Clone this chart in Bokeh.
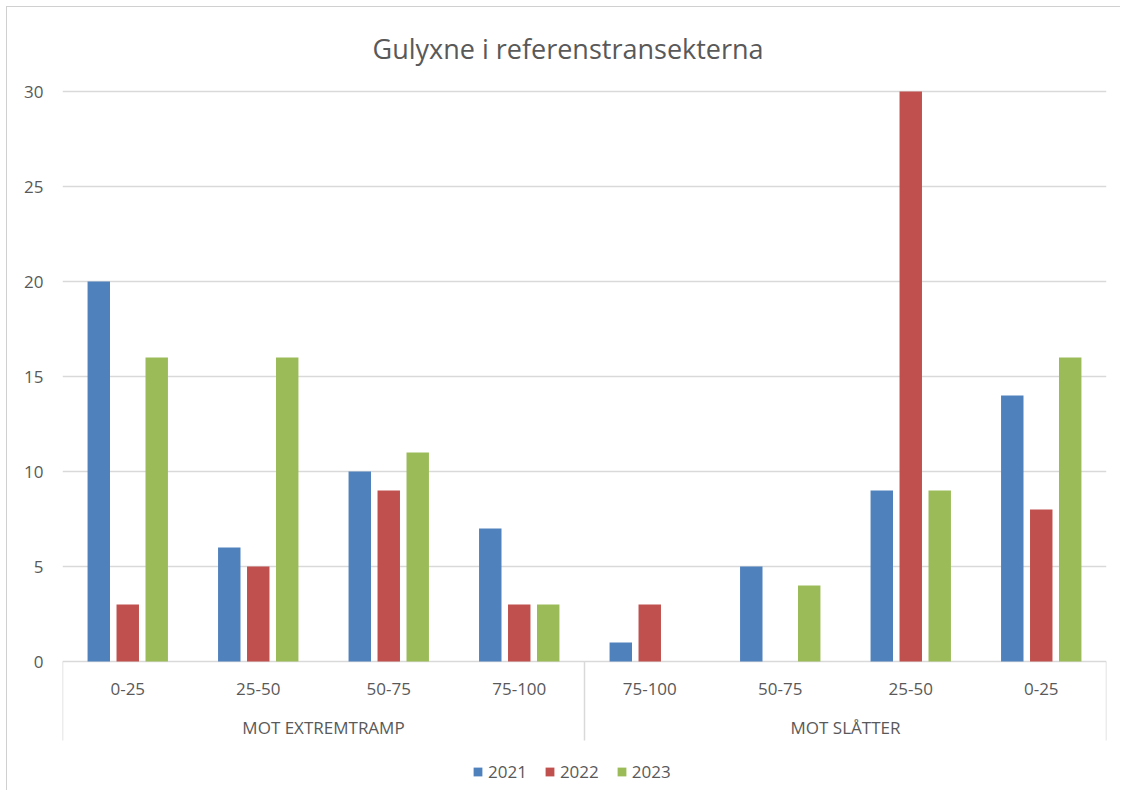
from bokeh.plotting import figure
from bokeh.models import (FactorRange, Range1d, Legend, LegendItem, FixedTicker,
                          ColumnDataSource, Title)
from bokeh.transform import dodge
from bokeh.core.properties import value
from bokeh.embed import file_html
from bokeh.resources import INLINE

# ---------------- data ----------------
groups = ["MOT EXTREMTRAMP"] * 4 + ["MOT SLÅTTER"] * 4
zones = ["0-25", "25-50", "50-75", "75-100", "75-100", "50-75", "25-50", "0-25"]
y2021 = [20, 6, 10, 7, 1, 5, 9, 14]
y2022 = [3, 5, 9, 3, 3, 0, 30, 8]
y2023 = [16, 16, 11, 3, 0, 4, 9, 16]
years = ["2021", "2022", "2023"]
yticks = [0, 5, 10, 15, 20, 25, 30]
title_text = "Gulyxne i referenstransekterna"

# ---------------- style ----------------
FONT = "Open Sans"
TXT = "#595959"
GRID = "#d9d9d9"
COLORS = ["#4F81BD", "#C0504D", "#9BBB59"]

O = 8                    # page px of figure's top-left corner
W, H = 1114, 784
FRAME_LEFT, FRAME_RIGHT = 63, 1107
FRAME_TOP = 70           # page px
ZERO_PX = 662
PX_PER_UNIT = 19.0
PAGE_BOTTOM = O + H
y_start = -(PAGE_BOTTOM - ZERO_PX) / PX_PER_UNIT
y_end = (ZERO_PX - FRAME_TOP) / PX_PER_UNIT

factors = list(zip(groups, zones))
x_range = FactorRange(*factors, range_padding=0, group_padding=0,
                      subgroup_padding=0, factor_padding=0)

p = figure(width=W, height=H, x_range=x_range,
           y_range=Range1d(y_start, y_end),
           output_backend="svg", toolbar_location=None,
           x_axis_location=None, title=None,
           min_border_left=FRAME_LEFT - O, min_border_right=O + W - FRAME_RIGHT,
           min_border_top=FRAME_TOP - O, min_border_bottom=0,
           outline_line_color=None,
           styles={"margin-left": "6px", "margin-top": "6px",
                   "border-left": "1px solid #d0d0d0",
                   "border-top": "1px solid #d0d0d0"})

t = Title(text=title_text, align="left", text_font=FONT,
          text_font_size="27px", text_font_style="normal",
          text_color=TXT, offset=373 - FRAME_LEFT, standoff=5)
p.add_layout(t, "above")

src = ColumnDataSource(dict(x=factors, y2021=y2021, y2022=y2022, y2023=y2023))

bar_w = 0.172
off = 0.222
renderers = []
for i, (col, c) in enumerate(zip(["y2021", "y2022", "y2023"], COLORS)):
    r = p.vbar(x=dodge("x", (i - 1) * off, range=p.x_range), top=col, bottom=0,
               width=bar_w, source=src, fill_color=c, line_color=None)
    renderers.append(r)

# y axis and grid
p.yaxis.ticker = FixedTicker(ticks=yticks)
p.yaxis.axis_line_color = None
p.yaxis.major_tick_line_color = None
p.yaxis.minor_tick_line_color = None
p.yaxis.major_tick_out = 0
p.yaxis.major_tick_in = 0
p.yaxis.major_label_standoff = 19
p.yaxis.major_label_text_font = FONT
p.yaxis.major_label_text_font_size = "17px"
p.yaxis.major_label_text_color = TXT
p.ygrid.ticker = FixedTicker(ticks=yticks)
p.ygrid.grid_line_color = GRID
p.ygrid.grid_line_width = 1.5
p.xgrid.grid_line_color = None

# category labels (two levels) and separators
lab_y = -(689 - ZERO_PX) / PX_PER_UNIT
grp_y = -(728 - ZERO_PX) / PX_PER_UNIT
sep_y = -(741 - ZERO_PX) / PX_PER_UNIT

p.text(x=factors, y=[lab_y] * len(factors), text=zones,
       text_font=value(FONT), text_font_size="17px", text_color=TXT,
       text_align="center", text_baseline="middle")

uniq_groups = list(dict.fromkeys(groups))
p.text(x=uniq_groups, y=[grp_y] * len(uniq_groups), text=uniq_groups,
       text_font=value(FONT), text_font_size="17px", text_color=TXT,
       text_align="center", text_baseline="middle")

sep_x = [(groups[0], zones[0], -0.5), (groups[4], zones[4], -0.5),
         (groups[-1], zones[-1], 0.5)]
p.segment(x0=sep_x, x1=sep_x, y0=[0] * 3, y1=[sep_y] * 3,
          line_color=GRID, line_width=1.5)

legend = Legend(items=[LegendItem(label=y, renderers=[r]) for y, r in zip(years, renderers)],
                orientation="horizontal", location=(473 - FRAME_LEFT, 8),
                glyph_width=11, glyph_height=11, label_standoff=5, spacing=17,
                padding=0, margin=0, border_line_color=None,
                background_fill_alpha=0,
                label_text_font=FONT, label_text_font_size="17px",
                label_text_color=TXT)
p.add_layout(legend, "center")

open("out.html", "w").write(file_html(p, INLINE))
